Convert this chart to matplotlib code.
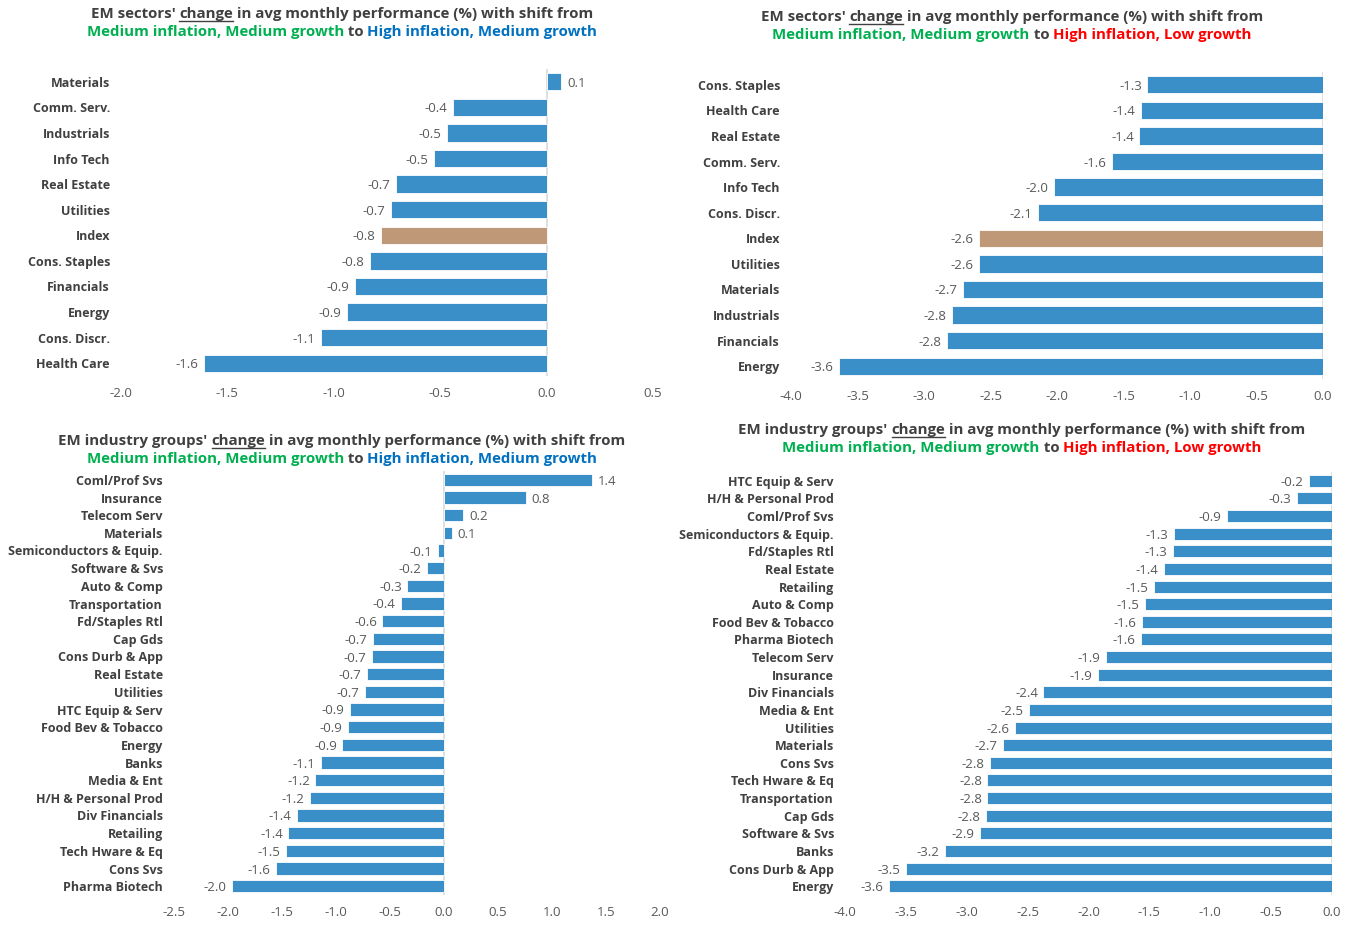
import numpy as np
import matplotlib
matplotlib.use("Agg")
import matplotlib.pyplot as plt
from matplotlib.lines import Line2D

# ---- data ----
sec_mm_hm = ['Materials', 'Comm. Serv.', 'Industrials', 'Info Tech', 'Real Estate', 'Utilities',
             'Index', 'Cons. Staples', 'Financials', 'Energy', 'Cons. Discr.', 'Health Care']
val_mm_hm = [0.07, -0.44, -0.47, -0.53, -0.71, -0.73, -0.78, -0.83, -0.90, -0.94, -1.06, -1.61]

sec_mm_hl = ['Cons. Staples', 'Health Care', 'Real Estate', 'Comm. Serv.', 'Info Tech', 'Cons. Discr.',
             'Index', 'Utilities', 'Materials', 'Industrials', 'Financials', 'Energy']
val_mm_hl = [-1.32, -1.37, -1.38, -1.59, -2.02, -2.14, -2.59, -2.59, -2.71, -2.79, -2.83, -3.64]

ig_mm_hm = ['Coml/Prof Svs', 'Insurance', 'Telecom Serv', 'Materials', 'Semiconductors & Equip.',
            'Software & Svs', 'Auto & Comp', 'Transportation', 'Fd/Staples Rtl', 'Cap Gds',
            'Cons Durb & App', 'Real Estate', 'Utilities', 'HTC Equip & Serv', 'Food Bev & Tobacco',
            'Energy', 'Banks', 'Media & Ent', 'H/H & Personal Prod', 'Div Financials', 'Retailing',
            'Tech Hware & Eq', 'Cons Svs', 'Pharma Biotech']
igv_mm_hm = [1.37, 0.76, 0.18, 0.07, -0.06, -0.16, -0.34, -0.40, -0.57, -0.66, -0.67, -0.71, -0.73,
             -0.87, -0.89, -0.94, -1.14, -1.19, -1.24, -1.36, -1.44, -1.46, -1.56, -1.96]

ig_mm_hl = ['HTC Equip & Serv', 'H/H & Personal Prod', 'Coml/Prof Svs', 'Semiconductors & Equip.',
            'Fd/Staples Rtl', 'Real Estate', 'Retailing', 'Auto & Comp', 'Food Bev & Tobacco',
            'Pharma Biotech', 'Telecom Serv', 'Insurance', 'Div Financials', 'Media & Ent', 'Utilities',
            'Materials', 'Cons Svs', 'Tech Hware & Eq', 'Transportation', 'Cap Gds', 'Software & Svs',
            'Banks', 'Cons Durb & App', 'Energy']
igv_mm_hl = [-0.19, -0.29, -0.86, -1.30, -1.31, -1.38, -1.46, -1.54, -1.56, -1.57, -1.86, -1.92,
             -2.37, -2.49, -2.60, -2.70, -2.81, -2.83, -2.83, -2.84, -2.89, -3.18, -3.50, -3.64]

ticks1 = [-2.0, -1.5, -1.0, -0.5, 0.0, 0.5]
ticks2 = [-4.0, -3.5, -3.0, -2.5, -2.0, -1.5, -1.0, -0.5, 0.0]
ticks3 = [-2.5, -2.0, -1.5, -1.0, -0.5, 0.0, 0.5, 1.0, 1.5, 2.0]
ticks4 = ticks2

BLUE = '#3A8FC9'
TAN = '#BF9878'
GREEN = '#00B050'
HBLUE = '#0070C0'
RED = '#FF0000'
DARK = '#404040'
FONT = 'Open Sans'

W, H = 1353, 926
fig = plt.figure(figsize=(W / 100, H / 100), dpi=100)


def make_ax(px_left, px_right, px_top, px_bottom):
    return fig.add_axes([px_left / W, 1 - px_bottom / H, (px_right - px_left) / W, (px_bottom - px_top) / H])


def draw_panel(ax, cats, vals, ticks, fs_cat, bar_h):
    y = np.arange(len(cats))
    colors = [TAN if c == 'Index' else BLUE for c in cats]
    bars = ax.barh(y, vals, height=bar_h, color=colors, edgecolor='white', linewidth=0.6)
    labels = ax.bar_label(bars, fmt='{:.1f}', padding=4, fontsize=9.5, color='#595959', family=FONT)
    for t in labels:
        t.set_va('center_baseline')
    ax.set_yticks(y)
    ax.set_yticklabels(cats, fontsize=fs_cat, color=DARK, fontweight='bold', family=FONT)
    ax.set_ylim(len(cats) - 0.5, -0.5)
    ax.set_xlim(ticks[0], ticks[-1])
    ax.set_xticks(ticks)
    ax.set_xticklabels(['{:.1f}'.format(t) for t in ticks], fontsize=9.5, color='#595959', family=FONT)
    ax.tick_params(axis='both', length=0)
    ax.tick_params(axis='y', pad=8)
    ax.tick_params(axis='x', pad=8)
    for s in ax.spines.values():
        s.set_visible(False)
    ax.axvline(0, color='#D9D9D9', linewidth=1.2, zorder=0)


def rich_line(x_px, y_px, parts, size):
    r = fig.canvas.get_renderer()
    full = ''.join(p[0] for p in parts)
    kw = dict(fontsize=size, fontweight='bold', family=FONT)

    def width(s):
        t = fig.text(0, 0, s + 'x', **kw)
        w1 = t.get_window_extent(r).width
        t.remove()
        t = fig.text(0, 0, 'x', **kw)
        w2 = t.get_window_extent(r).width
        t.remove()
        return w1 - w2

    total = width(full)
    x0 = x_px - total / 2
    prefix = ''
    for s, c, u in parts:
        off = width(prefix) if prefix else 0
        fig.text((x0 + off) / W, 1 - y_px / H, s, color=c, va='center', ha='left', **kw)
        if u:
            w = width(s)
            fig.add_artist(Line2D([(x0 + off) / W, (x0 + off + w) / W],
                                  [1 - (y_px + 7) / H, 1 - (y_px + 7) / H], color=c, linewidth=1))
        prefix += s


def title(x_px, y_px, start, target, tcolor, size=10.8):
    rich_line(x_px, y_px, [(start, DARK, False), ('change', DARK, True),
                           (' in avg monthly performance (%) with shift from', DARK, False)], size)
    rich_line(x_px, y_px + 18, [('Medium inflation, Medium growth', GREEN, False), (' to ', DARK, False),
                                (target, tcolor, False)], size)


ax1 = make_ax(121, 653, 69, 376)
draw_panel(ax1, sec_mm_hm, val_mm_hm, ticks1, 9, 0.68)
ax2 = make_ax(791, 1323, 72, 379)
draw_panel(ax2, sec_mm_hl, val_mm_hl, ticks2, 9, 0.68)
ax3 = make_ax(174, 660, 471, 895)
draw_panel(ax3, ig_mm_hm, igv_mm_hm, ticks3, 9, 0.68)
ax4 = make_ax(845, 1332, 472, 895)
draw_panel(ax4, ig_mm_hl, igv_mm_hl, ticks4, 9, 0.68)

fig.canvas.draw()
title(342, 14, "EM sectors' ", 'High inflation, Medium growth', HBLUE)
title(1012, 17, "EM sectors' ", 'High inflation, Low growth', RED)
title(342, 441, "EM industry groups' ", 'High inflation, Medium growth', HBLUE)
title(1022, 430, "EM industry groups' ", 'High inflation, Low growth', RED)

fig.savefig('out.png', dpi=100)
